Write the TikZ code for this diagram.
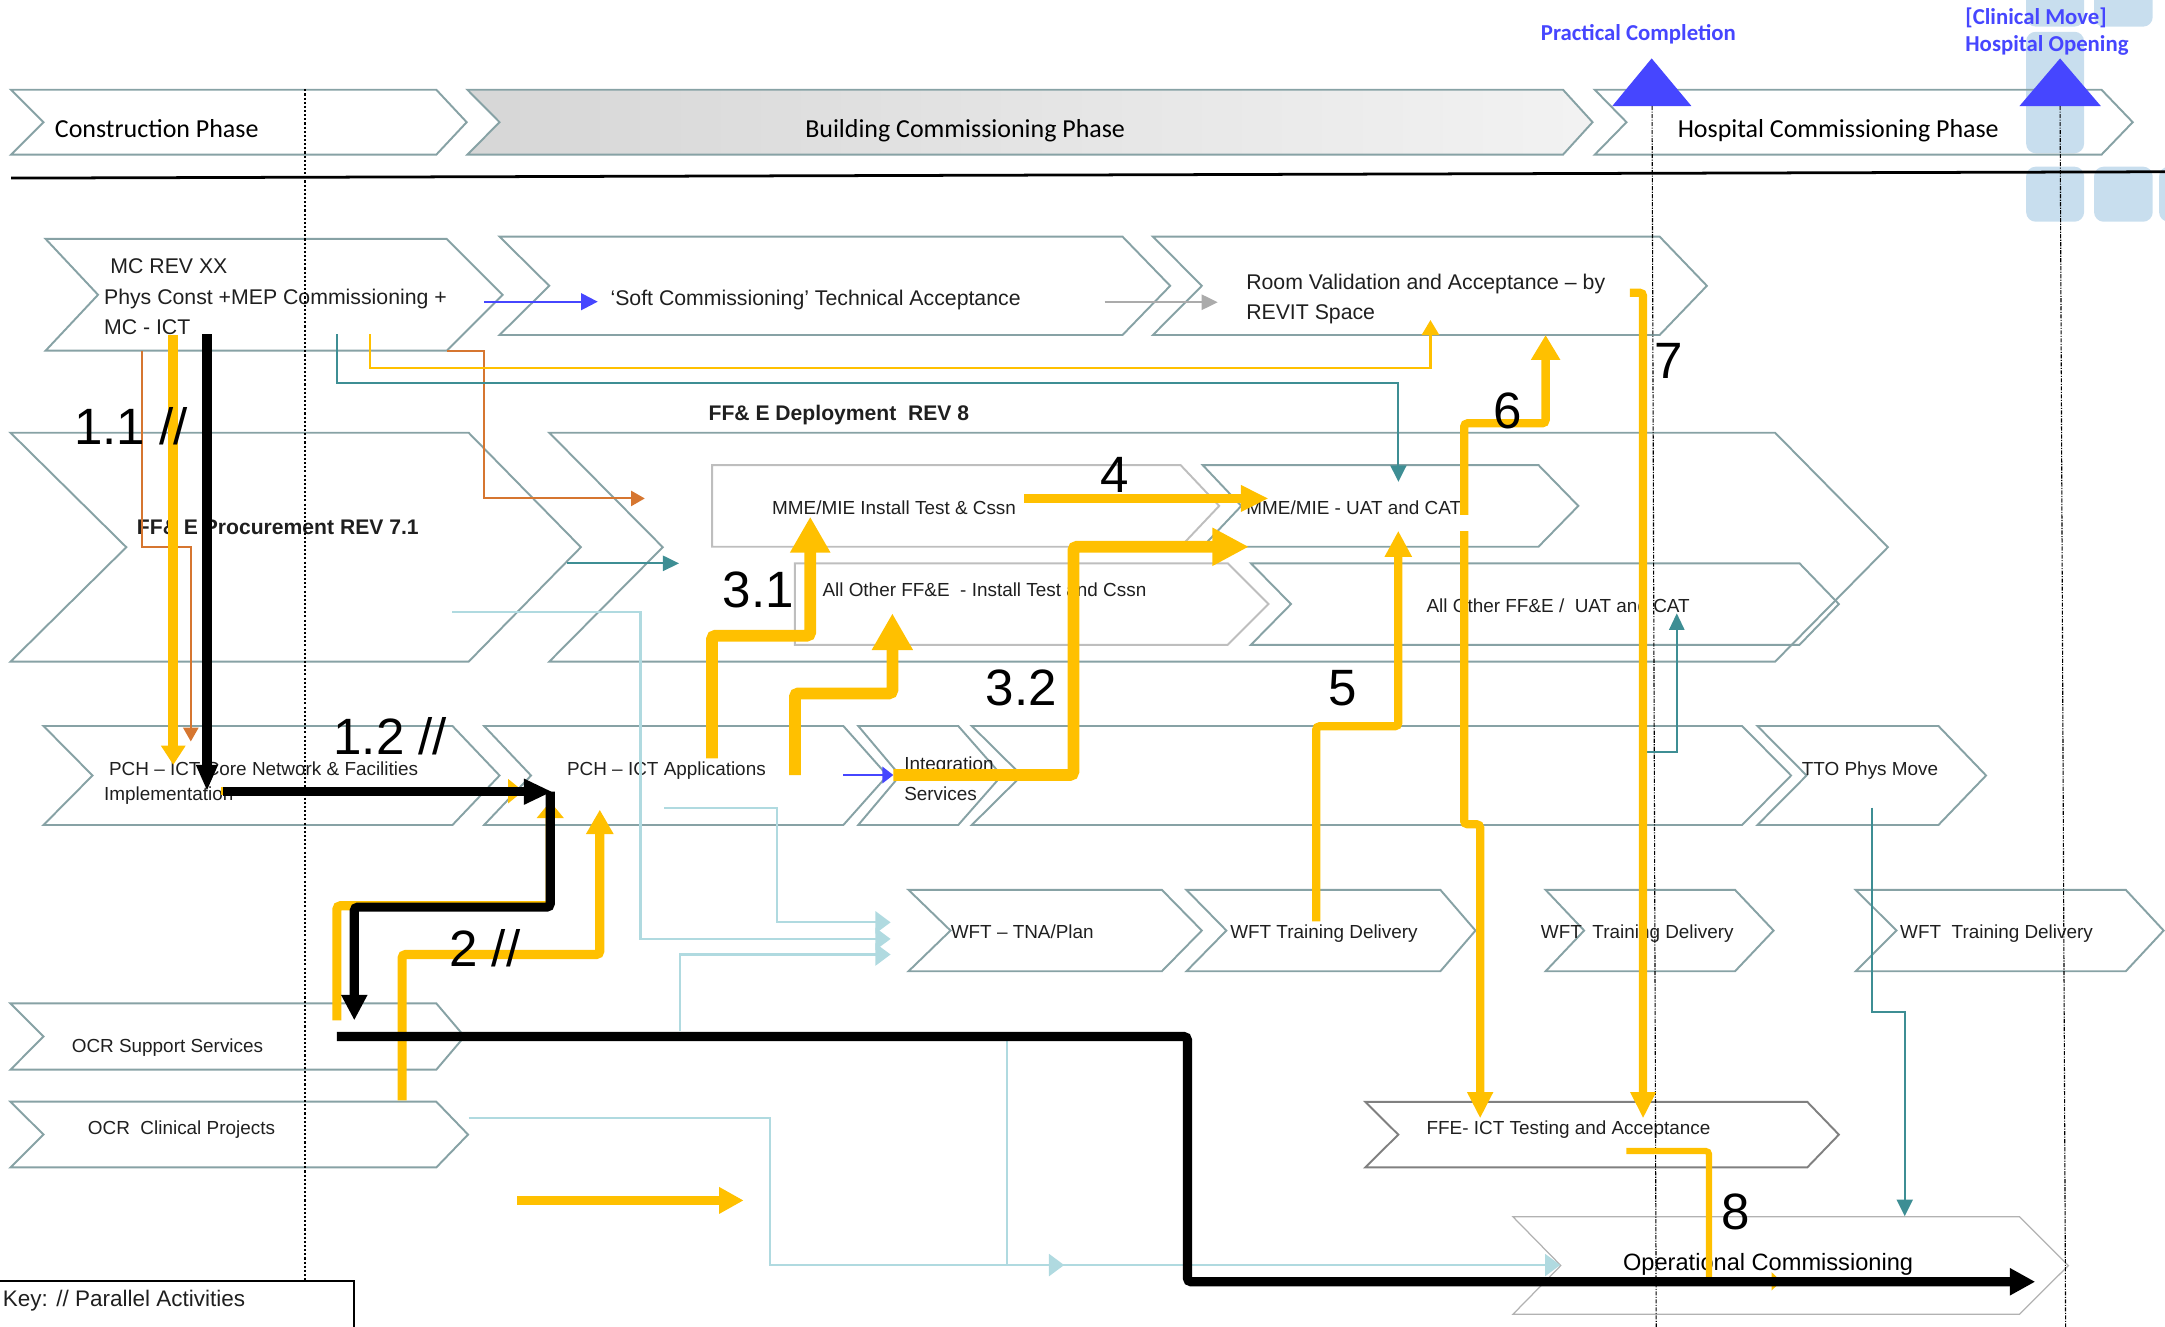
\documentclass[tikz,border=0pt]{standalone}
\usepackage{fontspec}
\setmainfont{Liberation Sans}
\newfontfamily\calib{Carlito}
\usetikzlibrary{arrows.meta}
\definecolor{chev}{RGB}{135,162,165}
\definecolor{ylw}{RGB}{255,192,0}
\definecolor{teal2}{RGB}{62,142,148}
\definecolor{lblue}{RGB}{176,218,224}
\definecolor{orng}{RGB}{214,118,48}
\definecolor{blu}{RGB}{70,70,255}
\definecolor{deco}{RGB}{200,222,238}
\definecolor{gbox}{RGB}{190,190,190}
\tikzset{
 chevline/.style={draw=chev, line width=1.4pt},
 graybox/.style={draw=gbox, line width=1.4pt},
 txt/.style={anchor=base west, inner sep=0pt, font=\fontsize{13.7}{16}\selectfont, text=black!88},
 txtb/.style={txt, font=\fontsize{15.3}{18}\selectfont\bfseries},
 txtr/.style={txt, font=\fontsize{15.4}{18}\selectfont},
 phasetxt/.style={anchor=base west, inner sep=0pt, font=\calib\fontsize{18.8}{22}\selectfont},
 mstone/.style={anchor=base west, inner sep=0pt, font=\calib\bfseries\fontsize{16.5}{19}\selectfont, text=blu},
 bignum/.style={anchor=base west, inner sep=0pt, font=\fontsize{37}{40}\selectfont},
 thinc/.style={line width=1.5pt},
 thk/.style={line width=#1, rounded corners=2.5pt},
}
\newcommand\chv[8]{%
 \draw[#2] (#3,#7) -- (#5,#7) -- (#6,{(#7+#8)/2}) -- (#5,#8) -- (#3,#8) -- (#4,{(#7+#8)/2}) -- cycle;
 \coordinate (#1) at ({(#3+#5)/2},{(#7+#8)/2});}
\begin{document}
\begin{tikzpicture}[x=1pt,y=-1pt]
\useasboundingbox (0,0) rectangle (1568,961);
% background decoration
\fill[deco, rounded corners=7pt] (1467.4,-12) rectangle (1509.4,19.3);
\fill[deco, rounded corners=7pt] (1516.6,-12) rectangle (1559.1,19.3);
\fill[deco, rounded corners=7pt] (1467.4,23) rectangle (1509.4,111);
\fill[deco, rounded corners=7pt] (1467.4,120.7) rectangle (1509.4,160.6);
\fill[deco, rounded corners=7pt] (1516.6,120.7) rectangle (1559.1,160.6);
\fill[deco, rounded corners=7pt] (1563.7,120.7) rectangle (1600,160.6);
% phases
\chv{cons}{chevline,fill=white}{8}{31.5}{316}{338}{65}{112}
\chv{bldg}{chevline,left color=black!16,right color=black!5}{338.5}{361.8}{1132}{1153.4}{65}{112}
\chv{hosp}{chevline}{1155}{1178}{1522}{1544.6}{65}{112}
\node[phasetxt] (t1) at (39.6,99.5) {Construction Phase};
\node[phasetxt, anchor=base] (t2) at (699,99.5) {Building Commissioning Phase};
\node[phasetxt] (t3) at (1214.9,99.5) {Hospital Commissioning Phase};
% milestones
\fill[blu] (1196.2,42.3) -- (1225,76.8) -- (1167.7,76.8) -- cycle;
\fill[blu] (1492,42.3) -- (1521.5,76.8) -- (1462.6,76.8) -- cycle;
\node[mstone] (pct) at (1115.8,29.5) {Practical Completion};
\node[mstone] (cmv) at (1423.2,18.1) {[Clinical Move]};
\node[mstone] (hop) at (1423.2,37.4) {Hospital Opening};
\draw[line width=2pt] (8,129) -- (1568,124.4);
% row 2
\chv{mc}{chevline}{33}{71}{323.5}{364}{173}{254}
\chv{soft}{chevline}{361.8}{397.8}{813}{847.5}{171.4}{242.6}
\chv{room}{chevline}{835}{870.4}{1202}{1236.2}{171.4}{242.6}
% row 3
\chv{proc}{chevline}{7.6}{91.5}{339.4}{420.7}{313.4}{479.2}
\chv{depl}{chevline}{397.8}{480}{1285.6}{1367.3}{313.4}{479.2}
\chv{mmei}{graybox}{515.7}{515.7}{855}{883}{336.8}{396}
\chv{mmeu}{chevline}{871}{899}{1114.2}{1143.1}{336.8}{396}
\chv{alli}{graybox}{575.7}{575.7}{889.2}{918.7}{408}{467}
\chv{allu}{chevline}{906}{935}{1303.3}{1331.8}{408}{467}
% row 4
\chv{pchc}{chevline}{31.5}{67}{327.7}{361.8}{525.8}{597.5}
\chv{pcha}{chevline}{350.6}{384.6}{610.8}{642.7}{525.8}{597.5}
\chv{intg}{chevline}{621.6}{651.8}{694}{725.5}{525.8}{597.5}
\chv{longc}{chevline}{703.8}{740}{1261.7}{1297.2}{525.8}{597.5}
\chv{tto}{chevline}{1272.8}{1308.4}{1403.9}{1438.4}{525.8}{597.5}
% row 5
\chv{tna}{chevline}{658}{688.4}{841.5}{870.4}{644.5}{703.4}
\chv{tdA}{chevline}{859.3}{888.2}{1043.2}{1068.6}{644.5}{703.4}
\chv{tdB}{chevline}{1119.4}{1147.3}{1256.6}{1284.5}{644.5}{703.4}
\chv{tdC}{chevline}{1344}{1373.5}{1539.6}{1567}{644.5}{703.4}
% rows 6-7
\chv{ocrs}{chevline}{7.6}{31.5}{316}{336.4}{726.7}{774.7}
\chv{ocrc}{chevline}{7.6}{31.5}{316}{339}{797.9}{845.5}
\chv{ffet}{draw=black!50, line width=1.4pt}{988.8}{1012.7}{1308.9}{1331.8}{798}{845.5}
\chv{opc}{draw=black!30, line width=0.9pt}{1095.7}{1130.4}{1462.5}{1498}{881.2}{951.9}
% texts
\node[txtr] (mc1) at (79.8,198) {MC REV XX};
\node[txtr] (mc2) at (75.2,220.2) {Phys Const +MEP Commissioning +};
\node[txtr] (mc3) at (75.2,242.6) {MC - ICT};
\node[txtr] (softt) at (442,221.6) {‘Soft Commissioning’ Technical Acceptance};
\node[txtr] (room1) at (902.4,209.6) {Room Validation and Acceptance – by};
\node[txtr] (room2) at (902.4,231.3) {REVIT Space};
\node[txtb] (deplt) at (513,304.2) {FF\& E Deployment\ \ REV 8};
\node[txtb] (proct) at (99,386.8) {FF\& E Procurement REV 7.1};
\node[txt] (mmeit) at (559,372.5) {MME/MIE Install Test \& Cssn};
\node[txt] (allit) at (595.5,432.1) {All Other FF\&E\ \ - Install Test and Cssn};
\node[txt] (mmeut) at (902.5,372.5) {MME/MIE - UAT and CAT};
\node[txt] (allut) at (1033,443.7) {All Other FF\&E /\ \ UAT and CAT};
\node[txt] (pchc1) at (78.8,562) {PCH – ICT Core Network \& Facilities};
\node[txt] (pchc2) at (75.2,579.9) {Implementation};
\node[txt] (pchat) at (410.5,562) {PCH – ICT Applications};
\node[txt] (intg1) at (654.7,558.2) {Integration};
\node[txt] (intg2) at (654.7,580.1) {Services};
\node[txt] (ttot) at (1304.8,562) {TTO Phys Move};
\node[txt] (tnat) at (688.4,680) {WFT – TNA/Plan};
\node[txt] (tdAt) at (890.8,680) {WFT Training Delivery};
\node[txt] (tdBt) at (1115.8,680) {WFT\ \ Training Delivery};
\node[txt] (tdCt) at (1376,680) {WFT\ \ Training Delivery};
\node[txt] (ocrst) at (51.8,762.6) {OCR Support Services};
\node[txt] (ocrct) at (63.5,821.5) {OCR\ \ Clinical Projects};
\node[txt] (ffett) at (1033,821.5) {FFE- ICT Testing and Acceptance};
\node[txt, font=\fontsize{17.1}{20}\selectfont, text=black] (opct) at (1175.3,920.3) {Operational Commissioning};
% key
\draw[line width=1.5pt] (-2,928) -- (256.6,928) -- (256.6,975);
\node[txt, font=\fontsize{16.3}{19}\selectfont] (key) at (1.9,946.4) {Key: // Parallel Activities};
% dotted guide lines
\draw[line width=1.3pt, dash pattern=on 1.5pt off 1.5pt] (221,64.7) -- (221,928);
\draw[line width=0.8pt, dash pattern=on 3pt off 1pt on 0.8pt off 1pt] (1196.5,76.8) -- (1199.5,961);
\draw[line width=0.8pt, dash pattern=on 3pt off 1pt on 0.8pt off 1pt] (1492,76.8) -- (1496,961);
% thin connectors
\draw[orng, thinc, -{Triangle[length=10pt,width=11pt]}] (323.6,254) -- (350.6,254) -- (350.6,361) -- (467,361);
\draw[orng, thinc, -{Triangle[length=10pt,width=11pt]}] (102.6,254) -- (102.6,396) -- (138.2,396) -- (138.2,537);
\draw[teal2, thinc, -{Triangle[length=12pt,width=11.6pt]}] (244,242) -- (244,277.6) -- (1012.8,277.6) -- (1012.8,349);
\draw[teal2, thinc, -{Triangle[length=11.7pt,width=11pt]}] (410.5,408) -- (491.8,408);
\draw[teal2, thinc, -{Triangle[length=12pt,width=11pt]}] (1188,544.4) -- (1214.4,544.4) -- (1214.4,444.2);
\draw[teal2, thinc, -{Triangle[length=12pt,width=11.6pt]}] (1355.6,585) -- (1355.6,733) -- (1379.5,733) -- (1379.5,880.8);
\draw[ylw, thinc, -{Triangle[length=11pt,width=12.7pt]}] (267.8,242) -- (267.8,266.3) -- (1036,266.3) -- (1036,231.8);
\draw[lblue, thinc, -{Triangle[length=11pt,width=16pt]}] (327.7,443) -- (463.9,443) -- (463.9,680) -- (645,680);
\draw[lblue, thinc, -{Triangle[length=11pt,width=16pt]}] (481,585) -- (563,585) -- (563,668) -- (645,668);
\draw[lblue, thinc, -{Triangle[length=11pt,width=16pt]}] (492.8,747) -- (492.8,691.3) -- (645,691.3);
\draw[lblue, thinc, -{Triangle[length=11pt,width=16pt]}] (339.4,809.6) -- (557.4,809.6) -- (557.4,916.2) -- (770.7,916.2);
\draw[lblue, thinc, -{Triangle[length=11pt,width=16pt]}] (729,752) -- (729,916.2) -- (1130,916.2);
\draw[blu, line width=1.7pt, -{Triangle[length=12pt,width=12pt]}] (350.6,218.5) -- (432.9,218.5);
\draw[blu, thinc, -{Triangle[length=8pt,width=12pt]}] (610.8,561.3) -- (647,561.3);
\draw[black!33, thinc, -{Triangle[length=11.7pt,width=11pt]}] (800,218.9) -- (882,218.9);
% thick yellow paths
\draw[ylw, thk=7pt, -{Triangle[length=14pt,width=17pt]}] (125.5,242.6) -- (125.5,554);
\draw[ylw, thk=6pt, -{Triangle[length=11pt,width=17pt]}] (160,573) -- (379,573);
\draw[ylw, thk=6.6pt, -{Triangle[length=12pt,width=19pt]}] (244,739) -- (244,656) -- (398.5,656) -- (398.5,580.5);
\draw[ylw, thk=6.6pt, -{Triangle[length=17.7pt,width=18.8pt]}] (291.2,797) -- (291.2,691.3) -- (434.4,691.3) -- (434.4,586.4);
\draw[ylw, thk=8.5pt, -{Triangle[length=26pt,width=27.4pt]}] (515.7,549.3) -- (515.7,460.4) -- (586.8,460.4) -- (586.8,374.2);
\draw[ylw, thk=8.5pt, -{Triangle[length=26.6pt,width=28pt]}] (575.7,561.3) -- (575.7,502.2) -- (646.3,502.2) -- (646.3,444.2);
\draw[ylw, thk=8.5pt, -{Triangle[length=26.4pt,width=25.8pt]}] (647,561.3) -- (777.4,561.3) -- (777.4,396) -- (904.5,396);
\draw[ylw, thk=6.8pt, -{Triangle[length=20pt,width=18pt]}] (741.8,361) -- (918.7,361);
\draw[ylw, thk=6pt, -{Triangle[length=19pt,width=18.6pt]}] (953.3,667.3) -- (953.3,526) -- (1012.7,526) -- (1012.7,384.4);
\draw[ylw, thk=6pt, {Triangle[length=18pt,width=20pt]}-{Triangle[length=19pt,width=17.5pt]}] (1119.4,242.6) -- (1119.4,306.6) -- (1060.4,306.6) -- (1060.4,597) -- (1072,597) -- (1072,810);
\fill[white] (1055,373) rectangle (1066,384.4);
\draw[ylw, thk=6pt, -{Triangle[length=19pt,width=17.3pt]}] (1180.4,212) -- (1190,212) -- (1190,810);
\draw[ylw, thk=4.5pt, -{Triangle[length=7pt,width=13pt]}] (1177.8,833.6) -- (1237.8,833.6) -- (1237.8,928) -- (1290,928);
\draw[ylw, thk=6pt, -{Triangle[length=17.8pt,width=18.2pt]}] (374.5,869.4) -- (538.6,869.4);
% thick black paths
\draw[black, thk=7pt, -{Triangle[length=19pt,width=14.5pt]}] (149.9,242) -- (149.9,573);
\draw[black, thk=6.6pt, -{Triangle[length=20.6pt,width=17.4pt]}] (161.6,573.4) -- (400,573.4);
\draw[black, thk=6.6pt, -{Triangle[length=18.5pt,width=17.8pt]}] (398.5,573.4) -- (398.5,657) -- (256.6,657) -- (256.6,739);
\draw[black, thk=6.6pt, -{Triangle[length=18.4pt,width=18.6pt]}] (243.9,750.7) -- (860,750.7) -- (860,928.3) -- (1474,928.3);
% step numbers
\node[bignum] (n11) at (53.4,321.6) {1.1 //};
\node[bignum] (n12) at (241.3,546.8) {1.2 //};
\node[bignum] (n2) at (325.2,700.1) {2 //};
\node[bignum] (n31) at (523.3,439.9) {3.1};
\node[bignum] (n32) at (713.9,510.6) {3.2};
\node[bignum] (n4) at (796.7,356.8) {4};
\node[bignum] (n5) at (962,510.6) {5};
\node[bignum] (n6) at (1081.4,310.2) {6};
\node[bignum] (n7) at (1198.2,274) {7};
\node[bignum] (n8) at (1246.8,890.4) {8};
\end{tikzpicture}
\end{document}
